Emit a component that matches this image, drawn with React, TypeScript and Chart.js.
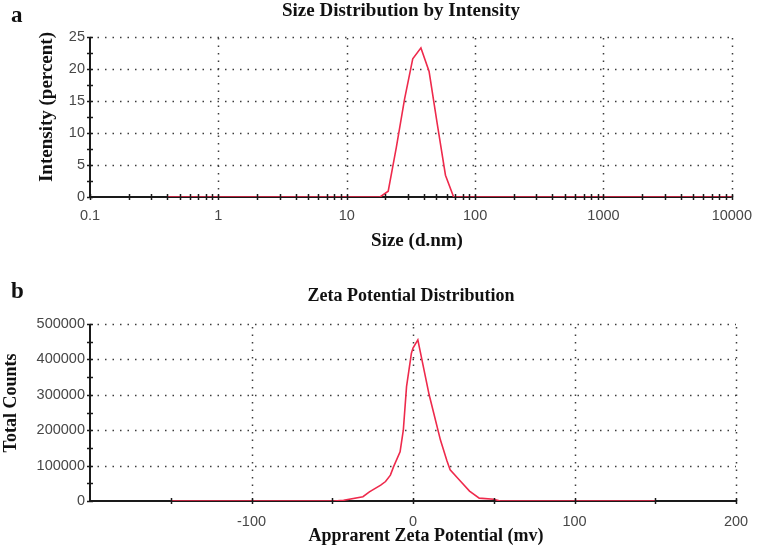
import React, { useEffect, useRef } from 'react';
import { Chart, registerables } from 'chart.js';

Chart.register(...registerables);

// ---------- data ----------
const sizeNm = [0.4, 18.17, 21.04, 24.36, 28.21, 32.67, 37.84, 43.82, 50.75, 58.77, 68.06, 10000];
const intensityPct = [0, 0, 0.9, 7.8, 15.3, 21.6, 23.3, 19.6, 11.4, 3.4, 0, 0];
const sizeTickValues = [0.1, 1, 10, 100, 1000, 10000];
const intensityTickValues = [0, 5, 10, 15, 20, 25];

const zetaMv = [-150, -49, -43, -31, -27, -20, -17, -14, -12, -8, -6, -4, -1, 0, 3, 10, 17, 21, 23, 29, 35, 41, 50, 54, 150];
const zetaCounts = [0, 0, 2000, 12000, 26000, 45000, 55000, 73000, 97000, 139000, 200000, 323000, 417000, 432000, 455000, 300000, 172000, 114000, 88000, 58000, 28000, 8000, 5000, 0, 0];
const zetaTickValues = [-100, 0, 100, 200];
const countTickValues = [0, 100000, 200000, 300000, 400000, 500000];

// minor tick marks
const sizeMinorTicks = [0.1, 1, 10, 100, 1000].flatMap((d) => [1, 2, 3, 4, 5, 6, 7, 8, 9].map((m) => +(d * m).toPrecision(3))).concat([10000]);
const intensityMinorTicks = [0, 2.5, 5, 7.5, 10, 12.5, 15, 17.5, 20, 22.5, 25];
const zetaMinorTicks = [-150, -100, -50, 0, 50, 100, 150, 200];
const countMinorTicks = [0, 50000, 100000, 150000, 200000, 250000, 300000, 350000, 400000, 450000, 500000];

const TICK_FONT = { family: '"Liberation Sans", Arial, sans-serif', size: 14.5 };
const TICK_COLOR = '#474747';
const LINE_COLOR = '#ee2a4c';
const SERIF = '"Liberation Serif", "Times New Roman", serif';

type TextItem = { text: string; x: number; y: number; size: number; align: CanvasTextAlign; rotate?: boolean };

const decorPlugin = {
  id: 'decor',
  beforeDatasetsDraw(chart: any, _args: any, opts: any) {
    const { ctx, chartArea: a, scales } = chart;
    const xs = scales.x;
    const ys = scales.y;
    ctx.save();
    ctx.strokeStyle = '#3c3c3c';
    ctx.lineWidth = 1.5;
    ctx.setLineDash([1.5, 6]);
    for (const v of opts.xGrid) {
      const px = Math.round(xs.getPixelForValue(v)) + 0.5;
      ctx.beginPath();
      ctx.moveTo(px, a.bottom);
      ctx.lineTo(px, a.top);
      ctx.stroke();
    }
    for (const v of opts.yGrid) {
      const py = Math.round(ys.getPixelForValue(v)) + 0.5;
      ctx.beginPath();
      ctx.moveTo(a.left, py);
      ctx.lineTo(a.right, py);
      ctx.stroke();
    }
    ctx.setLineDash([]);
    ctx.strokeStyle = '#1a1a1a';
    ctx.lineWidth = 2;
    ctx.beginPath();
    ctx.moveTo(a.left, a.top);
    ctx.lineTo(a.left, a.bottom);
    ctx.lineTo(a.right, a.bottom);
    ctx.stroke();
    ctx.restore();
  },
  afterDatasetsDraw(chart: any, _args: any, opts: any) {
    const { ctx, chartArea: a, scales } = chart;
    const xs = scales.x;
    const ys = scales.y;
    ctx.save();
    ctx.strokeStyle = '#1a1a1a';
    ctx.lineWidth = 1.5;
    for (const v of opts.xTicks) {
      const px = Math.round(xs.getPixelForValue(v)) + 0.5;
      ctx.beginPath();
      ctx.moveTo(px, a.bottom - 3);
      ctx.lineTo(px, a.bottom + 3);
      ctx.stroke();
    }
    for (const v of opts.yTicks) {
      const py = Math.round(ys.getPixelForValue(v)) + 0.5;
      ctx.beginPath();
      ctx.moveTo(a.left - 3, py);
      ctx.lineTo(a.left + 3, py);
      ctx.stroke();
    }
    ctx.restore();
  },
  afterDraw(chart: any, _args: any, opts: any) {
    const { ctx } = chart;
    ctx.save();
    ctx.fillStyle = '#111';
    ctx.textBaseline = 'alphabetic';
    for (const t of opts.texts as TextItem[]) {
      ctx.font = `bold ${t.size}px ${SERIF}`;
      ctx.textAlign = t.align;
      if (t.rotate) {
        ctx.save();
        ctx.translate(t.x, t.y);
        ctx.rotate(-Math.PI / 2);
        ctx.fillText(t.text, 0, 0);
        ctx.restore();
      } else {
        ctx.fillText(t.text, t.x, t.y);
      }
    }
    ctx.restore();
  },
};

function makeConfig(p: {
  xs: number[]; ys: number[]; xType: 'logarithmic' | 'linear'; xMin: number; xMax: number; xTickVals: number[];
  yMax: number; yTickVals: number[]; padding: any; xLabelPad: number; xGrid: number[]; yGrid: number[];
  xTicks: number[]; yTicks: number[]; texts: TextItem[];
}): any {
  return {
    type: 'line',
    data: {
      datasets: [
        {
          data: p.xs.map((x, i) => ({ x, y: p.ys[i] })),
          borderColor: LINE_COLOR,
          borderWidth: 1.6,
          pointRadius: 0,
          tension: 0,
          fill: false,
        },
      ],
    },
    options: {
      responsive: false,
      animation: false,
      events: [],
      layout: { padding: p.padding },
      plugins: {
        legend: { display: false },
        tooltip: { enabled: false },
        title: { display: false },
        decor: { xGrid: p.xGrid, yGrid: p.yGrid, xTicks: p.xTicks, yTicks: p.yTicks, texts: p.texts },
      },
      scales: {
        x: {
          type: p.xType,
          min: p.xMin,
          max: p.xMax,
          grid: { display: false, drawTicks: false },
          border: { display: false },
          afterBuildTicks: (s: any) => {
            s.ticks = p.xTickVals.map((v) => ({ value: v }));
          },
          afterFit: (s: any) => {
            s.height = 30;
          },
          ticks: {
            autoSkip: false,
            maxRotation: 0,
            padding: p.xLabelPad,
            font: TICK_FONT,
            color: TICK_COLOR,
            callback: (v: any) => String(v),
          },
        },
        y: {
          type: 'linear',
          min: 0,
          max: p.yMax,
          grid: { display: false, drawTicks: false },
          border: { display: false },
          afterBuildTicks: (s: any) => {
            s.ticks = p.yTickVals.map((v) => ({ value: v }));
          },
          afterFit: (s: any) => {
            s.width = 90;
          },
          ticks: {
            autoSkip: false,
            padding: 5,
            font: TICK_FONT,
            color: TICK_COLOR,
            callback: (v: any) => String(v),
          },
        },
      },
    },
    plugins: [decorPlugin],
  };
}

function ChartCanvas({ config, top, height }: { config: any; top: number; height: number }) {
  const ref = useRef<HTMLCanvasElement | null>(null);
  useEffect(() => {
    if (!ref.current) return;
    const chart = new Chart(ref.current, config);
    return () => chart.destroy();
  }, [config]);
  return (
    <canvas
      ref={ref}
      width={762}
      height={height}
      style={{ position: 'absolute', left: 0, top, width: 762, height }}
    />
  );
}

const sizeConfig = makeConfig({
  xs: sizeNm,
  ys: intensityPct,
  xType: 'logarithmic',
  xMin: 0.1,
  xMax: 10000,
  xTickVals: sizeTickValues,
  yMax: 25,
  yTickVals: intensityTickValues,
  padding: { top: 37, right: 22, bottom: 49, left: 0 },
  xLabelPad: 10,
  xGrid: [1, 10, 100, 1000, 10000],
  yGrid: [5, 10, 15, 20, 25],
  xTicks: sizeMinorTicks,
  yTicks: intensityMinorTicks,
  texts: [
    { text: 'a', x: 11, y: 22, size: 23, align: 'left' },
    { text: 'Size Distribution by Intensity', x: 401, y: 16, size: 19, align: 'center' },
    { text: 'Intensity (percent)', x: 52, y: 107, size: 19, align: 'center', rotate: true },
    { text: 'Size (d.nm)', x: 417, y: 246, size: 19, align: 'center' },
  ],
});

const zetaConfig = makeConfig({
  xs: zetaMv,
  ys: zetaCounts,
  xType: 'linear',
  xMin: -200,
  xMax: 200,
  xTickVals: zetaTickValues,
  yMax: 500000,
  yTickVals: countTickValues,
  padding: { top: 48, right: 26, bottom: 22, left: 0 },
  xLabelPad: 12,
  xGrid: [-100, 0, 100, 200],
  yGrid: [100000, 200000, 300000, 400000, 500000],
  xTicks: zetaMinorTicks,
  yTicks: countMinorTicks,
  texts: [
    { text: 'b', x: 11, y: 22, size: 23, align: 'left' },
    { text: 'Zeta Potential Distribution', x: 411, y: 25, size: 18, align: 'center' },
    { text: 'Total Counts', x: 16, y: 127, size: 18, align: 'center', rotate: true },
    { text: 'Apprarent Zeta Potential (mv)', x: 426, y: 265, size: 18, align: 'center' },
  ],
});

export default function App() {
  return (
    <div style={{ position: 'absolute', left: 0, top: 0, width: 762, height: 553, background: '#fff', overflow: 'hidden' }}>
      <ChartCanvas config={sizeConfig} top={0} height={276} />
      <ChartCanvas config={zetaConfig} top={276} height={277} />
    </div>
  );
}
